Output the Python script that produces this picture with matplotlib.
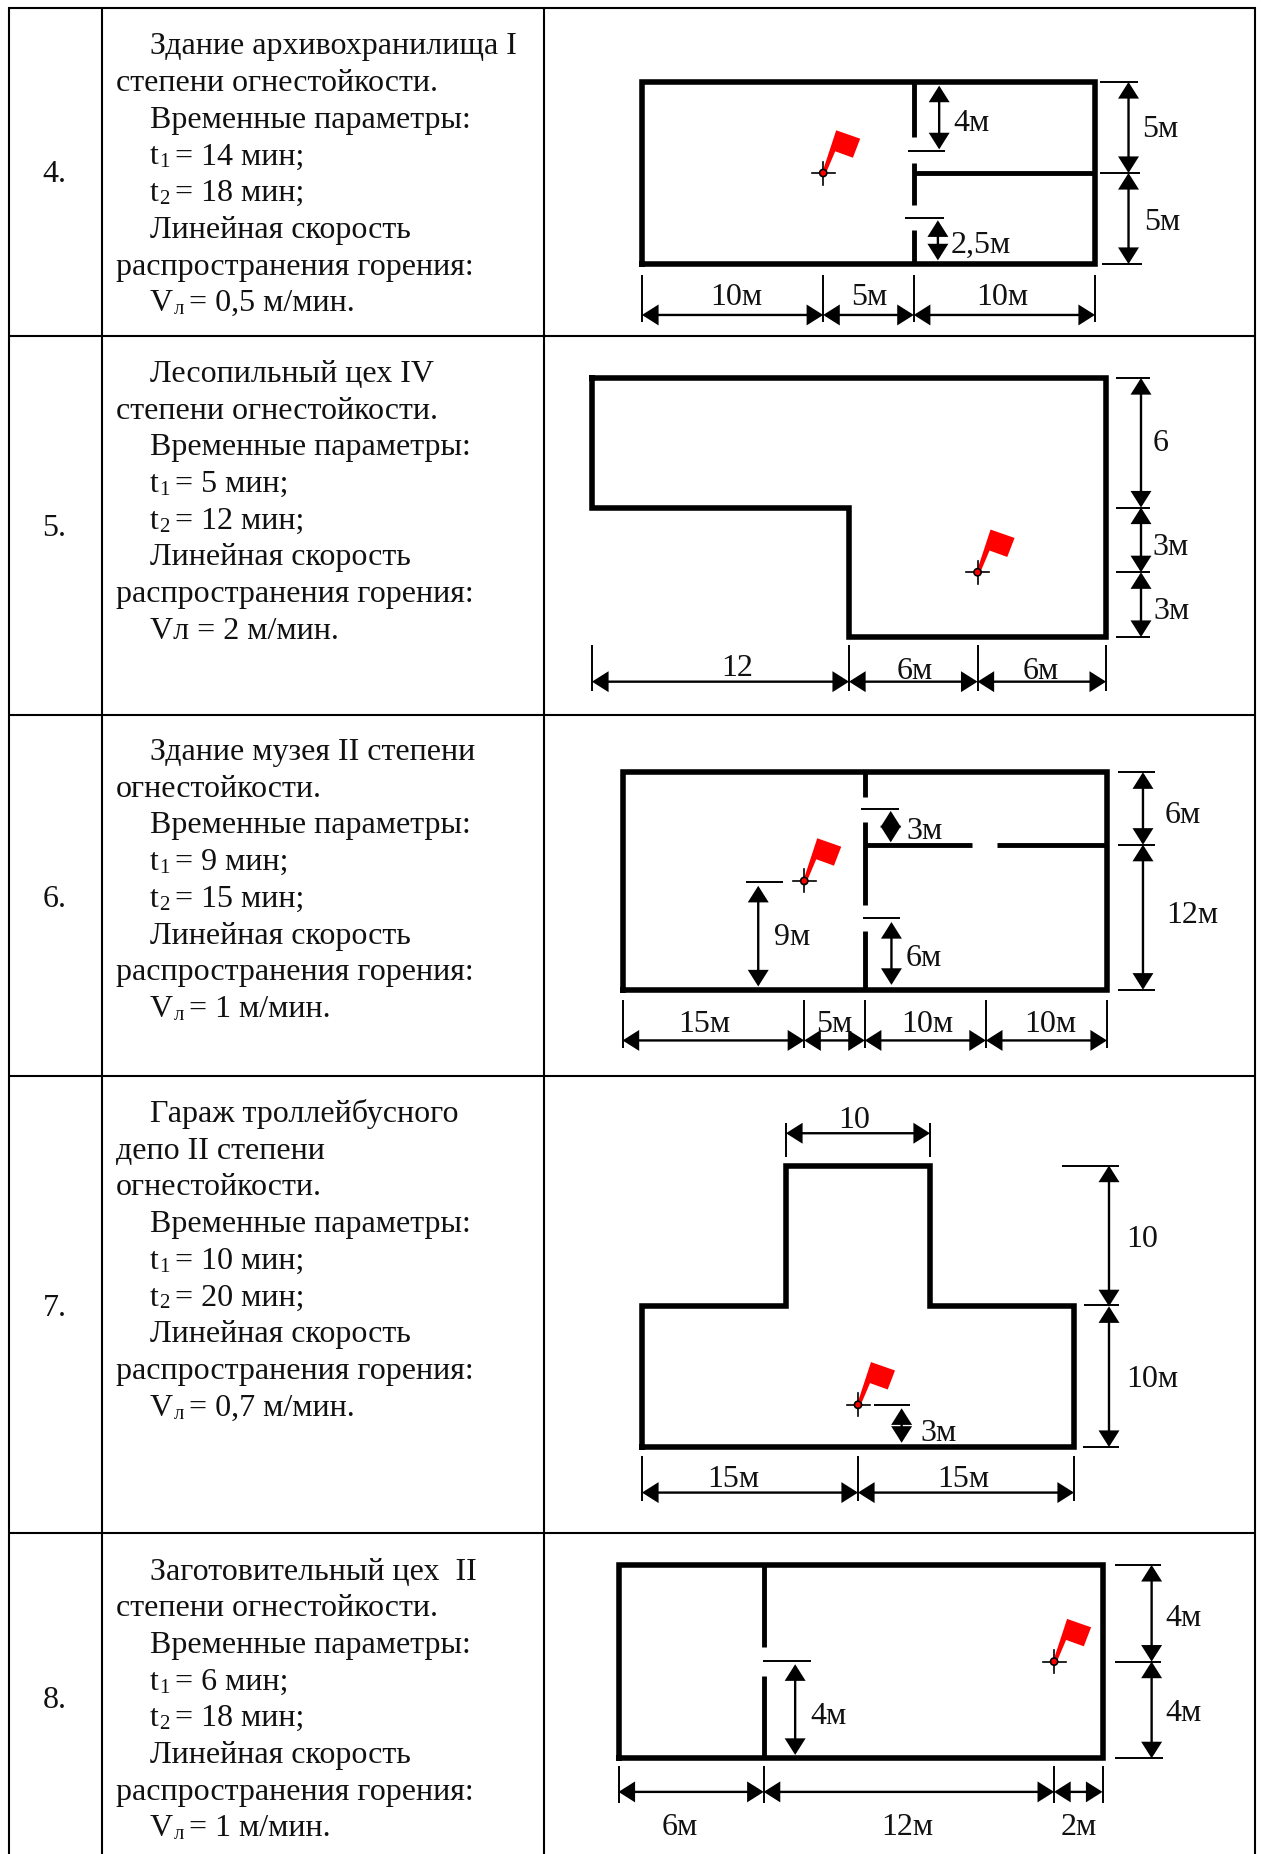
import matplotlib
matplotlib.use("Agg")
import matplotlib.pyplot as plt
from matplotlib.patches import Polygon, Circle
from matplotlib.transforms import Affine2D

W_PX, H_PX = 1261, 1854
SERIF = "Liberation Serif"

# ---- table ----
COL_X = [9, 102, 544, 1255]
ROW_Y = [8, 336, 715, 1076, 1533]
ROW_NUMBERS = ["4.", "5.", "6.", "7.", "8."]
NUMBER_BASELINE = [181.7, 536.4, 906.5, 1315.6, 1708]
FIRST_BASELINE = [54.3, 381.8, 760, 1122, 1579.5]

ROW4_LINES = [("Здание архивохранилища I", 1), ("степени огнестойкости.", 0),
              ("Временные параметры:", 1), (("t", "1", "= 14 мин;"), 1), (("t", "2", "= 18 мин;"), 1),
              ("Линейная скорость", 1), ("распространения горения:", 0), (("V", "л", "= 0,5 м/мин."), 1)]
ROW5_LINES = [("Лесопильный цех IV", 1), ("степени огнестойкости.", 0),
              ("Временные параметры:", 1), (("t", "1", "= 5 мин;"), 1), (("t", "2", "= 12 мин;"), 1),
              ("Линейная скорость", 1), ("распространения горения:", 0), ("Vл = 2 м/мин.", 1)]
ROW6_LINES = [("Здание музея II степени", 1), ("огнестойкости.", 0),
              ("Временные параметры:", 1), (("t", "1", "= 9 мин;"), 1), (("t", "2", "= 15 мин;"), 1),
              ("Линейная скорость", 1), ("распространения горения:", 0), (("V", "л", "= 1 м/мин."), 1)]
ROW7_LINES = [("Гараж троллейбусного", 1), ("депо II степени", 0), ("огнестойкости.", 0),
              ("Временные параметры:", 1), (("t", "1", "= 10 мин;"), 1), (("t", "2", "= 20 мин;"), 1),
              ("Линейная скорость", 1), ("распространения горения:", 0), (("V", "л", "= 0,7 м/мин."), 1)]
ROW8_LINES = [("Заготовительный цех  II", 1), ("степени огнестойкости.", 0),
              ("Временные параметры:", 1), (("t", "1", "= 6 мин;"), 1), (("t", "2", "= 18 мин;"), 1),
              ("Линейная скорость", 1), ("распространения горения:", 0), (("V", "л", "= 1 м/мин."), 1)]

# ---- plans, all in metres from the lower left corner ----
# Plan 4
P4_OUTER = [[(0, 0), (25, 0), (25, 10), (0, 10), (0, 0)]]
P4_INNER = [[(15, 10), (15, 6.96)], [(15, 5.53), (15, 3.26)], [(15, 1.87), (15, 0)], [(15, 5), (25, 5)]]
P4_DIMS = [(0, -2.8, 10, -2.8), (10, -2.8, 15, -2.8), (15, -2.8, 25, -2.8),
           (26.85, 0, 26.85, 5), (26.85, 5, 26.85, 10),
           (16.4, 9.8, 16.4, 6.3), (16.33, 2.4, 16.33, 0.2)]
P4_EXT = [(0, -0.6, 0, -3.2), (10, -0.6, 10, -3.2), (15, -0.6, 15, -3.2), (25, -0.6, 25, -3.2),
          (25.4, 0, 27.6, 0), (25.3, 5, 27.5, 5), (25.25, 10, 27.4, 10),
          (14.7, 6.2, 16.7, 6.2), (14.5, 2.55, 16.65, 2.55)]
P4_LABELS = [("4м", 18.16, 7.91), ("5м", 28.6, 7.58), ("5м", 28.7, 2.45), ("2,5м", 18.7, 1.23),
             ("10м", 5.19, -1.67), ("5м", 12.53, -1.67), ("10м", 19.87, -1.67)]
P4_FLAG = (10, 5)
# Plan 5
P5_OUTER = [[(0, 12), (24, 12), (24, 0), (12, 0), (12, 6), (0, 6), (0, 12)]]
P5_INNER = []
P5_DIMS = [(0, -2.07, 12, -2.07), (12, -2.07, 18, -2.07), (18, -2.07, 24, -2.07),
           (25.63, 0, 25.63, 3), (25.63, 3, 25.63, 6), (25.63, 6, 25.63, 12)]
P5_EXT = [(0, -0.37, 0, -2.49), (12, -0.37, 12, -2.49), (18, -0.37, 18, -2.49), (24, -0.37, 24, -2.49),
          (24.47, 0, 26.07, 0), (24.47, 3, 26.07, 3), (24.47, 6, 26.07, 6), (24.47, 12, 26.07, 12)]
P5_LABELS = [("6", 26.56, 9.13), ("3м", 27.0, 4.31), ("3м", 27.08, 1.33),
             ("12", 6.77, -1.33), ("6м", 15.08, -1.45), ("6м", 20.96, -1.45)]
P5_FLAG = (18, 3)
# Plan 6
P6_OUTER = [[(0, 0), (40, 0), (40, 18), (0, 18), (0, 0)]]
P6_INNER = [[(20, 18), (20, 15.98)], [(20, 13.9), (20, 7.0)], [(20, 4.9), (20, 0)],
            [(20, 12), (28.85, 12)], [(30.9, 12), (40, 12)]]
P6_DIMS = [(0, -4.2, 15, -4.2), (15, -4.2, 20, -4.2), (20, -4.2, 30, -4.2), (30, -4.2, 40, -4.2),
           (42.97, 0, 42.97, 12), (42.97, 12, 42.97, 18),
           (22.14, 14.8, 22.14, 12.2), (22.2, 5.6, 22.2, 0.4), (11.2, 8.6, 11.2, 0.27)]
P6_EXT = [(0, -0.86, 0, -4.86), (15, -0.86, 15, -4.86), (20, -0.86, 20, -4.86),
          (30, -0.86, 30, -4.86), (40, -0.86, 40, -4.86),
          (40.9, 0, 44, 0), (40.9, 12, 44, 12), (40.9, 18, 44, 18),
          (19.7, 15, 22.85, 15), (19.85, 5.95, 22.9, 5.95), (10.2, 8.9, 13.25, 8.9)]
P6_LABELS = [("3м", 24.9, 13.36), ("6м", 24.9, 2.82), ("9м", 13.99, 4.61), ("6м", 46.27, 14.66),
             ("12м", 47.06, 6.38), ("15м", 6.72, -2.57), ("5м", 17.5, -2.57),
             ("10м", 25.19, -2.57), ("10м", 35.3, -2.57)]
P6_FLAG = (15, 9)
# Plan 7
P7_OUTER = [[(0, 0), (30, 0), (30, 10), (20, 10), (20, 20), (10, 20), (10, 10), (0, 10), (0, 0)]]
P7_INNER = []
P7_DIMS = [(0, -3.24, 15, -3.24), (15, -3.24, 30, -3.24), (10, 22.3, 20, 22.3),
           (32.43, 0, 32.43, 10), (32.43, 10, 32.43, 20), (18.03, 2.75, 18.03, 0.3)]
P7_EXT = [(0, -0.64, 0, -3.84), (15, -0.64, 15, -3.84), (30, -0.64, 30, -3.84),
          (10, 20.58, 10, 23.05), (20, 20.58, 20, 23.05),
          (29.2, 20, 33.1, 20), (30.7, 10.1, 33.1, 10.1), (30.6, 0, 33.1, 0), (16.1, 2.96, 18.6, 2.96)]
P7_LABELS = [("10", 14.72, 23.41), ("10", 34.72, 14.95), ("10м", 35.42, 5.0), ("3м", 20.6, 1.21),
             ("15м", 6.36, -2.04), ("15м", 22.3, -2.11)]
P7_FLAG = (15, 3)
# Plan 8
P8_OUTER = [[(0, 0), (20, 0), (20, 8), (0, 8), (0, 0)]]
P8_INNER = [[(6, 8), (6, 4.59)], [(6, 3.41), (6, 0)]]
P8_DIMS = [(0, -1.39, 6, -1.39), (6, -1.39, 18, -1.39), (18, -1.39, 20, -1.39),
           (22.03, 0, 22.03, 4), (22.03, 4, 22.03, 8), (7.3, 3.89, 7.3, 0.14)]
P8_EXT = [(0, -0.32, 0, -1.86), (6, -0.32, 6, -1.86), (18, -0.32, 18, -1.86), (20, -0.32, 20, -1.86),
          (20.5, 0, 22.5, 0), (20.5, 4, 22.4, 4), (20.5, 8, 22.4, 8), (5.97, 4.01, 7.96, 4.01)]
P8_LABELS = [("4м", 23.33, 5.93), ("4м", 23.33, 1.97), ("4м", 8.66, 1.86),
             ("6м", 2.54, -2.72), ("12м", 11.92, -2.72), ("2м", 19.0, -2.72)]
P8_FLAG = (18, 4)

# size in metres, origin in pixels, pixels per metre
PLAN_LAYOUT = [
    ((25, 10), (642, 264), (18.12, 18.2)),
    ((24, 12), (592, 637), (21.42, 21.58)),
    ((40, 18), (622.6, 989.7), (12.11, 12.08)),
    ((30, 20), (642, 1447), (14.4, 14.07)),
    ((20, 8), (618.5, 1758.3), (24.2, 24.17)),
]
PLANS = [
    (P4_OUTER, P4_INNER, P4_DIMS, P4_EXT, P4_LABELS, P4_FLAG),
    (P5_OUTER, P5_INNER, P5_DIMS, P5_EXT, P5_LABELS, P5_FLAG),
    (P6_OUTER, P6_INNER, P6_DIMS, P6_EXT, P6_LABELS, P6_FLAG),
    (P7_OUTER, P7_INNER, P7_DIMS, P7_EXT, P7_LABELS, P7_FLAG),
    (P8_OUTER, P8_INNER, P8_DIMS, P8_EXT, P8_LABELS, P8_FLAG),
]

# ---- styles ----
BODY_PT = 23
SUB_PT = 15
DIM_PT = 23
LINE_STEP = 36.7
INDENT_X = 149.5
PLAIN_X = 115.5
FLAG_SHAPE = [(13, 42.7), (37, 34.3), (29.7, 15.3), (12, 21.7), (2.5, -0.7), (-0.8, 0.8)]

fig = plt.figure(figsize=(W_PX / 100, H_PX / 100), dpi=100, facecolor="white")
table = fig.add_axes([0, 0, 1, 1])
table.set_xlim(0, W_PX)
table.set_ylim(H_PX, 0)
table.axis("off")

for x in COL_X:
    table.plot([x, x], [ROW_Y[0] - 1, H_PX], color="black", lw=1.5, solid_capstyle="butt")
for y in ROW_Y:
    table.plot([COL_X[0] - 1, COL_X[-1] + 1], [y, y], color="black", lw=1.5, solid_capstyle="butt")

renderer = fig.canvas.get_renderer()


def body(x, y, s, size=BODY_PT):
    return table.text(x, y, s, family=SERIF, fontsize=size, va="baseline", ha="left", color="#111111")


for number, nb, fb, lines in zip(ROW_NUMBERS, NUMBER_BASELINE, FIRST_BASELINE,
                                 [ROW4_LINES, ROW5_LINES, ROW6_LINES, ROW7_LINES, ROW8_LINES]):
    body(42.5, nb, number)
    for i, (content, indent) in enumerate(lines):
        x = INDENT_X if indent else PLAIN_X
        y = fb + i * LINE_STEP
        if isinstance(content, tuple):
            main, sub, rest = content
            t = body(x, y, main)
            x2 = t.get_window_extent(renderer).x1 + 1
            s = body(x2, y + 3, sub, SUB_PT)
            x3 = s.get_window_extent(renderer).x1 + 5
            body(x3, y, rest)
        else:
            body(x, y, content)


def draw_plan(layout, plan):
    (w, h), (ox, oy), (sx, sy) = layout
    outer, inner, dims, ext, labels, flag = plan
    ax = fig.add_axes([ox / W_PX, 1 - oy / H_PX, w * sx / W_PX, h * sy / H_PX])
    ax.set_xlim(0, w)
    ax.set_ylim(0, h)
    ax.axis("off")
    for wall in outer:
        xs, ys = zip(*wall)
        ax.plot(xs, ys, color="black", lw=4.0, clip_on=False,
                solid_capstyle="projecting", solid_joinstyle="miter")
    for wall in inner:
        xs, ys = zip(*wall)
        ax.plot(xs, ys, color="black", lw=3.5, clip_on=False, solid_capstyle="butt")
    for x1, y1, x2, y2 in ext:
        ax.plot([x1, x2], [y1, y2], color="black", lw=1.4, clip_on=False, solid_capstyle="butt")
    for x1, y1, x2, y2 in dims:
        ax.annotate("", xy=(x2, y2), xytext=(x1, y1), annotation_clip=False,
                    arrowprops=dict(arrowstyle="<|-|>,head_length=9.5,head_width=6", mutation_scale=1,
                                    shrinkA=0, shrinkB=0, lw=1.7, color="black",
                                    joinstyle="miter", capstyle="butt"))
    for text, x, y in labels:
        ax.annotate(text, xy=(x, y), xytext=(0, -DIM_PT * 0.338), textcoords="offset points",
                    ha="center", va="baseline", family=SERIF, fontsize=DIM_PT, color="#111111",
                    annotation_clip=False)
    # fire origin: red flag and cross, sized in pixels around the point
    px, py = ax.transData.transform(flag)
    pin = Affine2D().translate(px, py)
    ax.add_patch(Polygon(FLAG_SHAPE, closed=True, facecolor="#ff0000", edgecolor="none",
                         transform=pin, clip_on=False, zorder=5))
    ax.plot([-11.5, 11.5], [0, 0], color="black", lw=1.2, transform=pin, clip_on=False, zorder=6)
    ax.plot([0, 0], [-11.5, 11.5], color="black", lw=1.2, transform=pin, clip_on=False, zorder=6)
    ax.add_patch(Circle((0, 0), 3.6, facecolor="#ff0000", edgecolor="black", lw=1.2,
                        transform=pin, clip_on=False, zorder=7))


for layout, plan in zip(PLAN_LAYOUT, PLANS):
    draw_plan(layout, plan)

fig.savefig("out.png", dpi=100, facecolor="white")
